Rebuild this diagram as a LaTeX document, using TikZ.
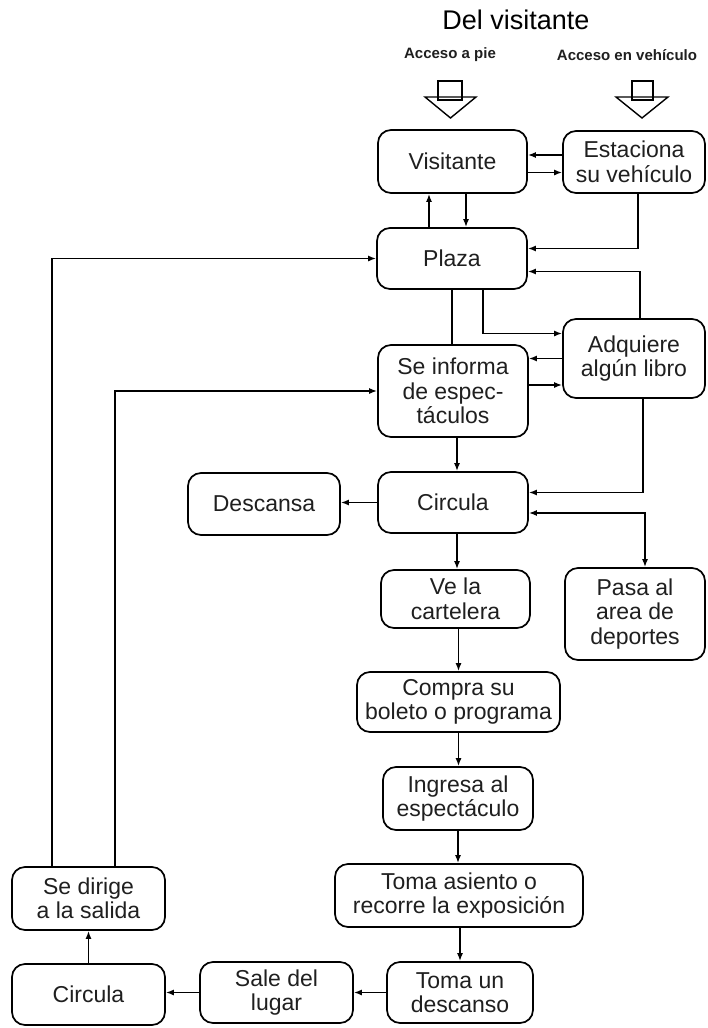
\documentclass[tikz,border=0pt]{standalone}
\usepackage{fontspec}
\setmainfont{Liberation Sans}
\usetikzlibrary{arrows.meta,calc}
\begin{document}
\begin{tikzpicture}[x=1pt,y=-1pt,
  box/.style={draw, line width=1.7pt, rounded corners=13pt, align=center, inner sep=0pt,
              font=\fontsize{23}{24.5}\selectfont, text=black!88},
  arr/.style={line width=1.5pt, -{Latex[length=8pt,width=6pt]}},
  plain/.style={line width=1.5pt},
  both/.style={line width=1.5pt, {Latex[length=8pt,width=6pt]}-{Latex[length=8pt,width=6pt]}},
  blk/.style={draw, line width=1.4pt, line join=miter},
  lbl/.style={font=\bfseries\fontsize{15}{18}\selectfont, text=black!88}
]
\useasboundingbox (0,0) rectangle (707,1028);

% titles
\node[font=\fontsize{27}{30}\selectfont] (title) at (516,20) {Del visitante};
\node[lbl] (pie) at (450,55) {Acceso a pie};
\node[lbl] (veh) at (627,55) {Acceso en vehículo};

% block arrows
\draw[blk] (438,81) rectangle (462,100);
\draw[blk] (425,97) -- (476,97) -- (450.5,118) -- cycle;
\draw[blk] (632,81) rectangle (653,100);
\draw[blk] (616,97) -- (668,97) -- (642,118) -- cycle;

% boxes
\node[box, minimum width=149pt, minimum height=63pt] (vis)    at (452.5,161.5) {Visitante};
\node[box, minimum width=142pt, minimum height=62pt] (est)    at (634,162)     {Estaciona\\su vehículo};
\node[box, minimum width=150pt, minimum height=61pt] (plaza)  at (452,258.5)   {Plaza};
\node[box, minimum width=150pt, minimum height=92pt] (inf)    at (453,391)     {Se informa\\de espec-\\táculos};
\node[box, minimum width=142pt, minimum height=79pt] (adq)    at (634,358.5)   {Adquiere\\algún libro};
\node[box, minimum width=150pt, minimum height=61pt] (circ)   at (453,502.5)   {Circula};
\node[box, minimum width=152pt, minimum height=62pt] (desc)   at (264,504)     {Descansa};
\node[box, minimum width=149pt, minimum height=58pt] (ve)     at (455.5,599)   {Ve la\\cartelera};
\node[box, minimum width=140pt, minimum height=92pt] (pasa)   at (635,614)     {Pasa al\\area de\\deportes};
\node[box, minimum width=203pt, minimum height=60pt] (compra) at (458.5,702)   {Compra su\\boleto o programa};
\node[box, minimum width=150pt, minimum height=63pt] (ingr)   at (458,798.5)   {Ingresa al\\espectáculo};
\node[box, minimum width=248pt, minimum height=63pt] (toma)   at (459,895.5)   {Toma asiento o\\recorre la exposición};
\node[box, minimum width=146pt, minimum height=61pt] (tomad)  at (460,992.5)   {Toma un\\descanso};
\node[box, minimum width=153pt, minimum height=61pt] (sale)   at (276.5,992.5) {Sale del\\lugar};
\node[box, minimum width=153pt, minimum height=61pt] (circb)  at (88.5,994.5)  {Circula};
\node[box, minimum width=153pt, minimum height=63pt] (dirige) at (88.5,898.5)  {Se dirige\\a la salida};

% port coordinates
\coordinate (e1)  at ([yshift=7]est.west);
\coordinate (v2)  at ([yshift=-11]vis.east);
\coordinate (p3)  at ([xshift=-23]plaza.north);
\coordinate (v4)  at ([xshift=13.5]vis.south);
\coordinate (e5)  at ([xshift=4]est.south);
\coordinate (p5)  at ([yshift=10]plaza.east);
\coordinate (a6)  at ([xshift=6]adq.north);
\coordinate (p6)  at ([yshift=-13]plaza.east);
\coordinate (p8)  at ([xshift=31]plaza.south);
\coordinate (a8)  at ([yshift=25]adq.west);
\coordinate (i10) at ([yshift=6]inf.east);
\coordinate (i11) at ([xshift=4]inf.south);
\coordinate (a12) at ([xshift=9]adq.south);
\coordinate (c12) at ([yshift=10]circ.east);
\coordinate (c13) at ([yshift=-10.5]circ.east);
\coordinate (s13) at ([xshift=10]pasa.north);
\coordinate (c15) at ([xshift=4]circ.south);
\coordinate (d23) at ([xshift=41]dirige.north west);
\coordinate (d24) at ([xshift=104]dirige.north west);

% connectors
\draw[arr] (e1) -- (e1 -| vis.east);
\draw[arr] (v2) -- (v2 -| est.west);
\draw[arr] (p3) -- (p3 |- vis.south);
\draw[arr] (v4) -- (v4 |- plaza.north);
\draw[arr] (e5) |- (p5);
\draw[arr] (a6) |- (p6);
\draw[plain] (plaza.south) -- (plaza.south |- inf.north);
\draw[arr] (p8) |- (a8);
\draw[arr] (adq.west) -- (adq.west -| inf.east);
\draw[arr] (i10) -- (i10 -| adq.west);
\draw[arr] (i11) -- (i11 |- circ.north);
\draw[arr] (a12) |- (c12);
\draw[both] (c13) -| (s13);
\draw[arr] (circ.west) -- (circ.west -| desc.east);
\draw[arr] (c15) -- (c15 |- ve.north);
\draw[arr] (compra.north |- ve.south) -- (compra.north);
\draw[arr] (compra.south) -- (compra.south |- ingr.north);
\draw[arr] (ingr.south) -- (ingr.south |- toma.north);
\draw[arr] (tomad.north |- toma.south) -- (tomad.north);
\draw[arr] (tomad.west) -- (tomad.west -| sale.east);
\draw[arr] (sale.west) -- (sale.west -| circb.east);
\draw[arr] (circb.north) -- (circb.north |- dirige.south);
\draw[arr] (d23) |- (plaza.west);
\draw[arr] (d24) |- (inf.west);
\end{tikzpicture}
\end{document}
